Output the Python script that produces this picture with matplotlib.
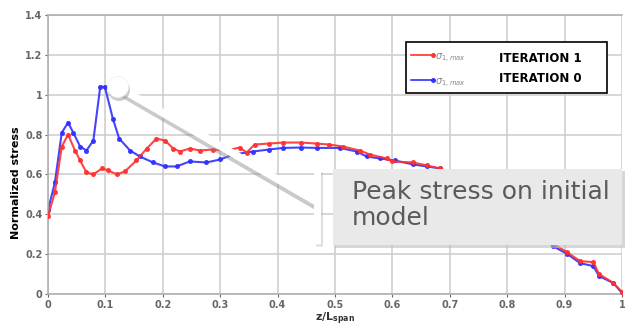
import matplotlib
matplotlib.use('Agg')
from matplotlib import pyplot as plt
from matplotlib.patches import Circle, Rectangle
from matplotlib.lines import Line2D
from matplotlib.transforms import Affine2D


# iteration 1 (red)
z_iter1 = [0.0, 0.012, 0.024, 0.035, 0.047, 0.056, 0.067, 0.079, 0.094, 0.105,
           0.12, 0.134, 0.154, 0.172, 0.189, 0.204, 0.218, 0.23, 0.247, 0.265,
           0.287, 0.31, 0.334, 0.346, 0.36, 0.385, 0.41, 0.44, 0.468, 0.49,
           0.514, 0.543, 0.561, 0.59, 0.60, 0.636, 0.66, 0.683, 0.72, 0.76,
           0.80, 0.84, 0.87, 0.904, 0.927, 0.95, 0.96, 0.985, 1.0]
s_iter1 = [0.39, 0.51, 0.74, 0.80, 0.72, 0.67, 0.61, 0.60, 0.63, 0.62,
           0.60, 0.615, 0.67, 0.73, 0.78, 0.77, 0.73, 0.715, 0.73, 0.72,
           0.725, 0.72, 0.735, 0.71, 0.75, 0.755, 0.76, 0.76, 0.755, 0.75,
           0.74, 0.72, 0.70, 0.68, 0.665, 0.66, 0.645, 0.63, 0.58, 0.50,
           0.42, 0.33, 0.27, 0.21, 0.165, 0.16, 0.10, 0.055, 0.01]

# iteration 0 (blue)
z_iter0 = [0.0, 0.012, 0.024, 0.035, 0.044, 0.056, 0.067, 0.079, 0.091, 0.099,
           0.113, 0.124, 0.143, 0.16, 0.183, 0.204, 0.224, 0.247, 0.276, 0.30,
           0.323, 0.357, 0.385, 0.41, 0.44, 0.468, 0.508, 0.538, 0.555, 0.578,
           0.604, 0.636, 0.66, 0.683, 0.72, 0.76, 0.80, 0.84, 0.88, 0.905,
           0.927, 0.95, 0.96, 0.985, 1.0]
s_iter0 = [0.42, 0.56, 0.81, 0.86, 0.81, 0.74, 0.72, 0.77, 1.04, 1.04,
           0.88, 0.78, 0.72, 0.69, 0.66, 0.64, 0.64, 0.665, 0.66, 0.675,
           0.70, 0.715, 0.725, 0.733, 0.735, 0.733, 0.733, 0.715, 0.69, 0.68,
           0.67, 0.65, 0.64, 0.63, 0.58, 0.50, 0.42, 0.33, 0.24, 0.20,
           0.155, 0.14, 0.09, 0.055, 0.005]

x_ticks = [0, 0.1, 0.2, 0.3, 0.4, 0.5, 0.6, 0.7, 0.8, 0.9, 1]
x_tick_labels = ['0', '0.1', '0.2', '0.3', '0.4', '0.5', '0.6', '0.7', '0.8', '0.9', '1']
y_ticks = [0, 0.2, 0.4, 0.6, 0.8, 1.0, 1.2, 1.4]
y_tick_labels = ['0', '0.2', '0.4', '0.6', '0.8', '1', '1.2', '1.4']

W, H = 625, 331
fig = plt.figure(figsize=(W / 100, H / 100), dpi=100)
fig.patch.set_facecolor('white')

# pixel coords, origin at top-left of the picture
pix = Affine2D().scale(1, -1).translate(0, H)


def fx(px):
    return px / W


def fy(py):
    return 1 - py / H


ax = fig.add_axes([fx(48), fy(294), 574 / W, 279 / H])
ax.set_xlim(0, 1)
ax.set_ylim(0, 1.4)

ax.plot(z_iter1, s_iter1, color='#ff3030', lw=1.5, marker='o', ms=2.6,
        alpha=0.9, zorder=3)
ax.plot(z_iter0, s_iter0, color='#3030ff', lw=1.5, marker='o', ms=2.6,
        alpha=0.9, zorder=2)

ax.set_xticks(x_ticks)
ax.set_xticklabels(x_tick_labels)
ax.set_yticks(y_ticks)
ax.set_yticklabels(y_tick_labels)
ax.tick_params(labelsize=7, colors='#666666', length=2, pad=2)
for lab in ax.get_xticklabels() + ax.get_yticklabels():
    lab.set_fontweight('bold')
ax.grid(True, color='#cfcfcf', lw=1.2)
for sp in ax.spines.values():
    sp.set_color('#b0b0b0')
    sp.set_linewidth(1.2)
ax.spines['right'].set_visible(False)

ax.set_xlabel('z/L$_{\\mathbf{span}}$', fontsize=8, fontweight='bold',
              color='#333333', labelpad=1)
fig.text(fx(16), fy(183), 'Normalized stress', rotation=90, fontsize=8,
         fontweight='bold', color='black', ha='center', va='center')

# legend box
fig.patches.append(Rectangle((406, 42), 201, 51, transform=pix,
                             facecolor='white', edgecolor='black', lw=1.2,
                             zorder=5))
for py, col in [(55, '#ff3030'), (80, '#3030ff')]:
    fig.lines.append(Line2D([411, 433], [py, py], transform=pix, color=col,
                            lw=1.2, marker='o', ms=2.5, markevery=[1],
                            zorder=6))
    fig.text(fx(435), fy(py + 3), '$\\sigma_{1,max}$', fontsize=7,
             color='#888888', va='center', zorder=6)
fig.text(fx(499), fy(59), 'ITERATION 1', fontsize=8.5, fontweight='bold',
         color='black', va='center', zorder=6)
fig.text(fx(499), fy(78), 'ITERATION 0', fontsize=8.5, fontweight='bold',
         color='black', va='center', zorder=6)

# callout
fig.lines.append(Line2D([118, 316], [91, 206], transform=pix,
                        color='#8a8a8a', lw=5.5, alpha=0.45,
                        solid_capstyle='butt', zorder=6))
fig.lines.append(Line2D([118, 317], [87, 202], transform=pix, color='white',
                        lw=5.5, solid_capstyle='butt', zorder=7))
fig.lines.append(Line2D([319, 319], [172, 246], transform=pix,
                        color='#a0a0a0', lw=5, alpha=0.35,
                        solid_capstyle='butt', zorder=6))
fig.lines.append(Line2D([317, 317], [170, 244], transform=pix, color='white',
                        lw=5, solid_capstyle='butt', zorder=7))
fig.patches.append(Circle((119, 90), 11, transform=pix, facecolor='#9a9a9a',
                          edgecolor='none', alpha=0.5, zorder=7))
fig.patches.append(Circle((118, 87), 10.5, transform=pix, facecolor='white',
                          edgecolor='#eeeeee', lw=0.5, zorder=8))
fig.patches.append(Rectangle((335, 171), 292, 77, transform=pix,
                             facecolor='#bdbdbd', edgecolor='none',
                             alpha=0.6, zorder=8))
fig.patches.append(Rectangle((333, 169), 289, 76, transform=pix,
                             facecolor='#e9e9e9', edgecolor='none', zorder=9))
fig.text(fx(352), fy(205), 'Peak stress on initial\nmodel', fontsize=18,
         color='#5a5a5a', va='center', ha='left', linespacing=1.1,
         family='DejaVu Sans', zorder=10)

fig.savefig('out.png', dpi=100, facecolor='white')
